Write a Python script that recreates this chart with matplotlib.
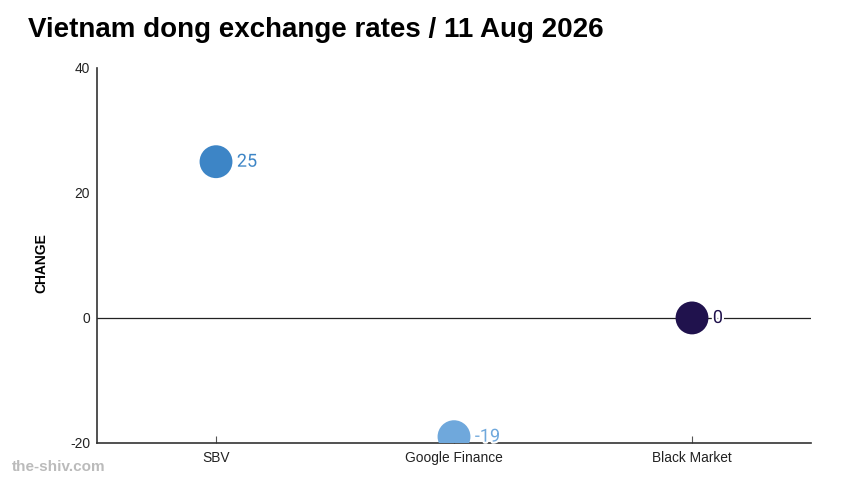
import matplotlib.pyplot as plt
import matplotlib.patheffects as pe

# data
sources = ["SBV", "Google Finance", "Black Market"]
change = [25, -19, 0]
colors = ["#3d85c6", "#6fa8dc", "#20124d"]
yticks = [-20, 0, 20, 40]

plt.rcParams['font.family'] = ['Liberation Sans', 'DejaVu Sans']

fig = plt.figure(figsize=(8.51, 4.96), dpi=100)
ax = fig.add_axes([0.114, 0.107, 0.839, 0.756])

xs = list(range(len(sources)))
ax.axhline(0, color="#222222", lw=0.9, zorder=1)
ax.scatter(xs, change, s=560, c=colors, zorder=3, linewidths=0)

for x, v, c in zip(xs, change, colors):
    ax.annotate(str(v), xy=(x, v), xytext=(15, 0), textcoords="offset points",
                ha="left", va="center", fontsize=13, color=c,
                family=["Roboto", "DejaVu Sans"],
                path_effects=[pe.withStroke(linewidth=3, foreground="white")],
                zorder=4)

ax.set_xlim(-0.5, 2.5)
ax.set_ylim(-20, 40)
ax.set_xticks(xs)
ax.set_xticklabels(sources, fontsize=9.9, color="#222222")
ax.set_yticks(yticks)
ax.set_yticklabels([str(t) for t in yticks], fontsize=9.9, color="#222222")
ax.tick_params(axis="x", direction="in", length=5, color="#555555", pad=6)
ax.tick_params(axis="y", length=0, pad=5)
for s in ["top", "right"]:
    ax.spines[s].set_visible(False)
for s in ["left", "bottom"]:
    ax.spines[s].set_color("#333333")
    ax.spines[s].set_linewidth(1.2)

ax.set_ylabel("CHANGE", fontsize=10, fontweight="bold")
ax.yaxis.set_label_coords(-0.068, 0.48)

fig.text(0.033, 0.94, "Vietnam dong exchange rates / 11 Aug 2026",
         fontsize=20, fontweight="bold", ha="left", va="center")
fig.text(0.014, 0.058, "the-shiv.com", fontsize=11, fontweight="bold",
         color="#bbbbbb", ha="left", va="center")

fig.savefig("out.png", dpi=100)
